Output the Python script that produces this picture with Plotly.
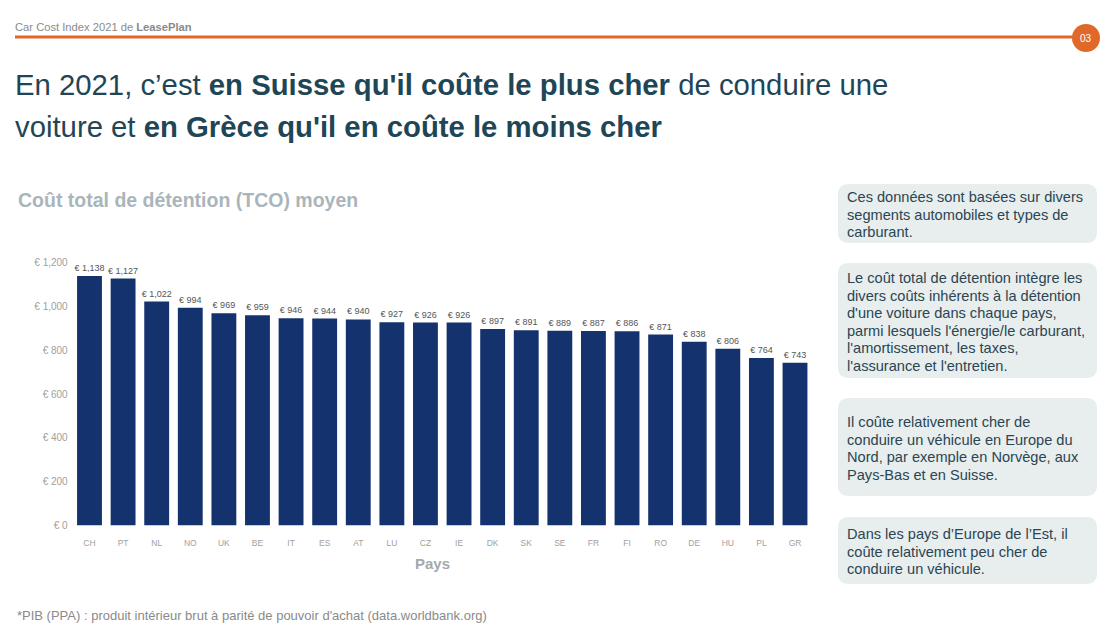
import plotly.graph_objects as go

W, H = 1110, 635

countries = ["CH", "PT", "NL", "NO", "UK", "BE", "IT", "ES", "AT", "LU", "CZ",
             "IE", "DK", "SK", "SE", "FR", "FI", "RO", "DE", "HU", "PL", "GR"]
tco = [1138, 1127, 1022, 994, 969, 959, 946, 944, 940, 927, 926,
       926, 897, 891, 889, 887, 886, 871, 838, 806, 764, 743]
y_ticks = [0, 200, 400, 600, 800, 1000, 1200]
y_tick_labels = ["€ 0", "€ 200", "€ 400", "€ 600", "€ 800", "€ 1,000", "€ 1,200"]

notes = [
    ["Ces données sont basées sur divers", "segments automobiles et types de", "carburant."],
    ["Le coût total de détention intègre les", "divers coûts inhérents à la détention",
     "d'une voiture dans chaque pays,", "parmi lesquels l'énergie/le carburant,",
     "l'amortissement, les taxes,", "l'assurance et l'entretien."],
    ["Il coûte relativement cher de", "conduire un véhicule en Europe du",
     "Nord, par exemple en Norvège, aux", "Pays-Bas et en Suisse."],
    ["Dans les pays d’Europe de l’Est, il", "coûte relativement peu cher de", "conduire un véhicule."],
]

FONT = "Liberation Sans, Arial, sans-serif"
NAVY = "#14336e"
ORANGE = "#e0692a"
TITLE_C = "#1f4656"


def px(x):
    return x / W


def py(y):
    return 1 - y / H


def rrect(x0, y0, x1, y1, r):
    X0, X1 = px(x0), px(x1)
    Y0, Y1 = py(y0), py(y1)
    rx, ry = r / W, r / H
    return (f"M{X0+rx},{Y0} L{X1-rx},{Y0} Q{X1},{Y0} {X1},{Y0-ry} "
            f"L{X1},{Y1+ry} Q{X1},{Y1} {X1-rx},{Y1} L{X0+rx},{Y1} "
            f"Q{X0},{Y1} {X0},{Y1+ry} L{X0},{Y0-ry} Q{X0},{Y0} {X0+rx},{Y0} Z")


fig = go.Figure()
fig.add_trace(go.Bar(
    x=countries, y=tco,
    marker=dict(color=NAVY, line=dict(width=0)),
    text=[f"€ {v:,}" for v in tco],
    textposition="outside",
    constraintext="none",
    textfont=dict(family=FONT, size=9, color="#555555"),
    cliponaxis=False,
    width=0.74,
    hoverinfo="skip",
))

shapes = []
annotations = []


def ann(x, y, text, size, color, xanchor="left", family=FONT):
    annotations.append(dict(x=px(x), y=py(y), xref="paper", yref="paper", xanchor=xanchor, yanchor="middle",
                            text=text, showarrow=False, align="left",
                            font=dict(family=family, size=size, color=color)))


# header
ann(13, 27, "Car Cost Index 2021 de <b>LeasePlan</b>", 11.2, "#8a8a8a")
shapes.append(dict(type="line", xref="paper", yref="paper", x0=px(15), x1=px(1078), y0=py(37), y1=py(37),
                   line=dict(color=ORANGE, width=3)))
shapes.append(dict(type="circle", xref="paper", yref="paper", x0=px(1072), x1=px(1100), y0=py(24), y1=py(52),
                   fillcolor=ORANGE, line=dict(width=0)))
ann(1086, 38, "03", 10, "white", xanchor="center")

# title
ann(13, 85, "En 2021, c’est <b>en Suisse qu'il coûte le plus cher</b> de conduire une", 29.3, TITLE_C)
ann(13, 126, "voiture et <b>en Grèce qu'il en coûte le moins cher</b>", 29.3, TITLE_C)

# chart subtitle
ann(16, 200, "<b>Coût total de détention (TCO) moyen</b>", 19.5, "#aab5bb")

# axis title
ann(432, 563, "<b>Pays</b>", 15, "#a3a9ad", xanchor="center")

# footer
ann(15, 615, "*PIB (PPA) : produit intérieur brut à parité de pouvoir d'achat (data.worldbank.org)", 13, "#8a8a8a")

# side notes
boxes = [(184, 243, 197), (263, 378, 278), (398, 496, 422), (517, 584, 534)]
for (y0, y1, first), lines in zip(boxes, notes):
    shapes.append(dict(type="path", xref="paper", yref="paper", path=rrect(838, y0, 1097, y1, 11),
                       fillcolor="#e8edee", line=dict(width=0), layer="below"))
    for i, line in enumerate(lines):
        ann(845, first + i * 17.6, line, 14.6, "#2a4652")

fig.update_layout(
    width=W, height=H, autosize=False,
    margin=dict(l=0, r=0, t=0, b=0, pad=0),
    paper_bgcolor="white", plot_bgcolor="white",
    showlegend=False,
    bargap=0.26,
    separators=".,",
    shapes=shapes,
    annotations=annotations,
    xaxis=dict(domain=[px(72.7), px(811.8)], automargin=False,
               tickfont=dict(family="Liberation Sans Narrow, " + FONT, size=8.5, color="#a0a0a0"),
               showline=False, showgrid=False, ticks="", ticklabelstandoff=11),
    yaxis=dict(domain=[py(525.5), py(262.5)], range=[0, 1200], tickvals=y_ticks, ticktext=y_tick_labels,
               automargin=False,
               tickfont=dict(family=FONT, size=10, color="#a0a0a0"), showgrid=False, zeroline=False,
               showline=False, ticks="", ticklabelstandoff=4),
)

fig.write_html("out.html")
